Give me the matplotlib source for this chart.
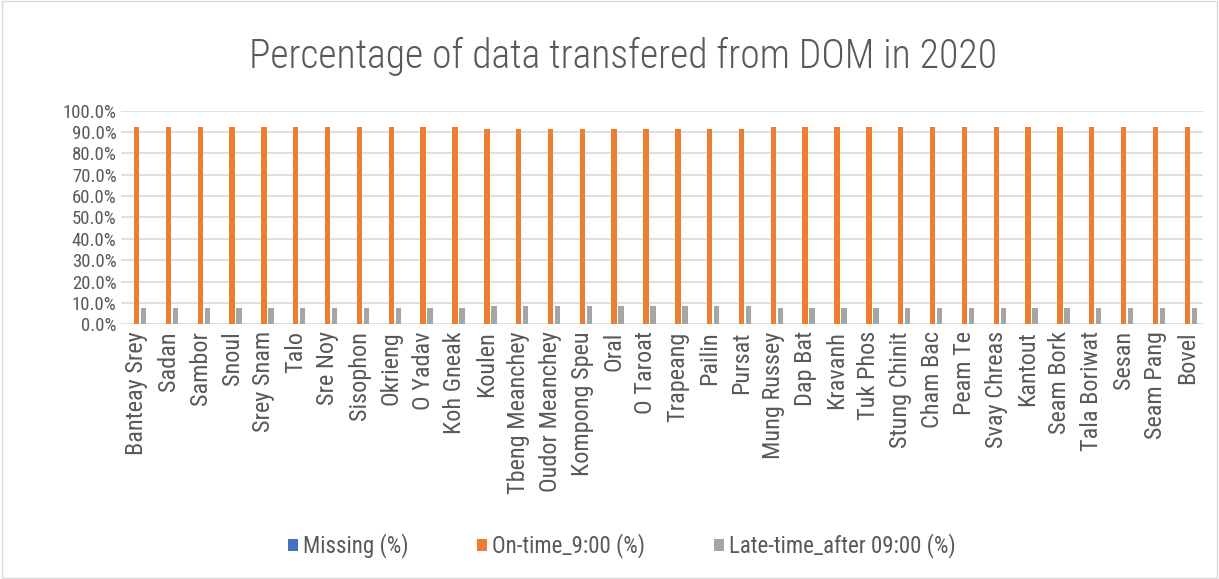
import matplotlib
matplotlib.use("Agg")
import matplotlib.pyplot as plt
import numpy as np
from matplotlib.ticker import FuncFormatter
from matplotlib.patches import Rectangle

plt.rcParams["font.family"] = ["Roboto Condensed", "DejaVu Sans"]

stations = ["Banteay Srey", "Sadan", "Sambor", "Snoul", "Srey Snam", "Talo", "Sre Noy",
            "Sisophon", "Okrieng", "O Yadav", "Koh Gneak", "Koulen", "Tbeng Meanchey",
            "Oudor Meanchey", "Kompong Speu", "Oral", "O Taroat", "Trapeang", "Pailin",
            "Pursat", "Mung Russey", "Dap Bat", "Kravanh", "Tuk Phos", "Stung Chinit",
            "Cham Bac", "Peam Te", "Svay Chreas", "Kantout", "Seam Bork", "Tala Boriwat",
            "Sesan", "Seam Pang", "Bovel"]

missing = [0.0] * 34
on_time = [0.922] * 11 + [0.914] * 9 + [0.922] * 14
late = [0.078] * 11 + [0.086] * 9 + [0.078] * 14

text_col = "#595959"

fig = plt.figure(figsize=(12.19, 5.79), dpi=100)
ax = fig.add_axes([0.099, 0.44, 0.888, 0.369])

x = np.arange(len(stations))
w = 0.17
off = 0.22
ax.bar(x - off, missing, w, color="#4472C4", label="Missing (%)", zorder=3)
ax.bar(x, on_time, w, color="#ED7D31", label="On-time_9:00 (%)", zorder=3)
ax.bar(x + off, late, w, color="#A5A5A5", label="Late-time_after 09:00 (%)", zorder=3)

ax.set_ylim(0, 1.0)
ax.set_xlim(-0.5, len(stations) - 0.5)
ax.set_yticks(np.arange(0, 1.01, 0.1))
ax.yaxis.set_major_formatter(FuncFormatter(lambda v, p: f"{v*100:.1f}%"))
ax.grid(axis="y", color="#D9D9D9", linewidth=1.2, zorder=0)
for s in ax.spines.values():
    s.set_visible(False)
ax.tick_params(axis="y", length=0, labelsize=13.5, colors=text_col, pad=3)
ax.tick_params(axis="x", length=0, labelsize=17.5, colors=text_col, pad=5)
ax.set_xticks(x)
ax.set_xticklabels(stations, rotation=90)

fig.text(0.511, 0.903, "Percentage of data transfered from DOM in 2020",
         ha="center", va="center", fontsize=28.5, fontweight=300, color=text_col)

fig.legend(loc="lower center", bbox_to_anchor=(0.51, 0.0), ncol=3, frameon=False,
           fontsize=16.5, labelcolor=text_col, handlelength=0.45, handleheight=0.45,
           columnspacing=3.0, handletextpad=0.2)

fig.patches.append(Rectangle((0.002, 0.002), 0.996, 0.996, transform=fig.transFigure,
                             fill=False, edgecolor="#D9D9D9", linewidth=1))

fig.savefig("out.png", dpi=100, facecolor="white")
